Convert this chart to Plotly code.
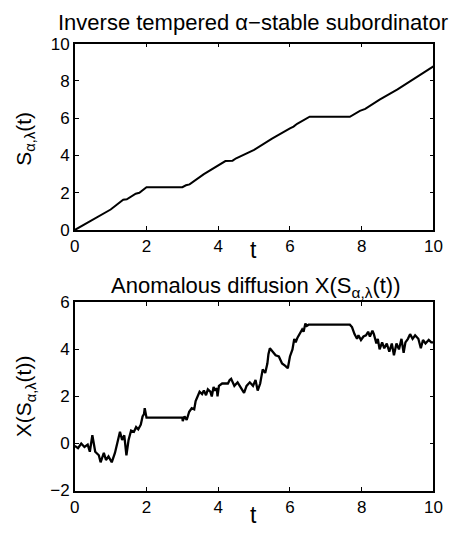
import plotly.graph_objects as go

# ---- data: inverse tempered alpha-stable subordinator ----
t_top = [0, 0.5, 1.0, 1.35, 1.45, 1.7, 1.8, 2.0, 3.0, 3.1, 3.2, 3.6, 4.0, 4.2, 4.4, 4.5,
         5.0, 5.5, 6.0, 6.1, 6.2, 6.55, 7.67, 7.85, 7.95, 8.1, 8.5, 9.0, 9.5, 10]
s_top = [0, 0.55, 1.1, 1.63, 1.65, 1.95, 2.0, 2.3, 2.3, 2.4, 2.45, 3.0, 3.45, 3.7, 3.72, 3.85,
         4.3, 4.9, 5.45, 5.55, 5.7, 6.08, 6.08, 6.3, 6.4, 6.5, 7.0, 7.55, 8.15, 8.78]

# ---- data: anomalous diffusion X(S(t)) ----
t_bot = [0, 0.09, 0.18, 0.27, 0.36, 0.42, 0.49, 0.57, 0.67, 0.72, 0.81, 0.87, 0.94, 1.03,
         1.12, 1.20, 1.26, 1.32, 1.38, 1.44, 1.50, 1.57, 1.65, 1.71, 1.77, 1.84, 1.89, 1.93,
         1.95, 2.0, 3.0, 3.01, 3.06, 3.12, 3.19, 3.26, 3.33, 3.37, 3.42, 3.48, 3.55, 3.60,
         3.66, 3.71, 3.78, 3.82, 3.87, 3.91, 3.96, 3.98, 4.02, 4.11, 4.27, 4.32, 4.36, 4.45,
         4.54, 4.63, 4.72, 4.79, 4.88, 4.97, 5.04, 5.10, 5.17, 5.24, 5.31, 5.37, 5.40, 5.44,
         5.51, 5.60, 5.69, 5.78, 5.87, 5.94, 6.00, 6.07, 6.12, 6.16, 6.21, 6.27, 6.34, 6.38,
         6.43, 6.47, 6.52, 7.67, 7.73, 7.80, 7.87, 7.91, 7.98, 8.05, 8.12, 8.18, 8.23, 8.30,
         8.34, 8.41, 8.45, 8.50, 8.57, 8.63, 8.70, 8.77, 8.84, 8.90, 8.97, 9.04, 9.11, 9.17,
         9.22, 9.29, 9.35, 9.42, 9.49, 9.58, 9.65, 9.71, 9.78, 9.87, 9.94, 10]
x_bot = [-0.1, -0.2, 0.0, -0.15, -0.05, -0.35, 0.35, -0.35, -0.5, -0.8, -0.4, -0.7, -0.55, -0.8,
         -0.4, 0.15, 0.5, 0.15, 0.35, -0.5, 0.15, 0.55, 0.5, 0.7, 0.6, 0.8, 1.15, 1.25,
         1.5, 1.1, 1.1, 0.95, 1.15, 1.0, 1.35, 1.5, 1.45, 1.8, 2.0, 2.2, 2.1, 2.25,
         2.05, 2.3, 2.2, 2.0, 2.4, 2.25, 2.35, 2.0, 2.45, 2.55, 2.55, 2.7, 2.75, 2.45,
         2.6, 2.35, 2.15, 2.45, 2.6, 2.45, 2.7, 2.25, 2.55, 3.15, 3.0, 3.4, 3.8, 4.05,
         3.9, 3.75, 3.7, 3.4, 3.3, 3.2, 3.7, 4.0, 4.45, 4.3, 4.5, 4.65, 4.85, 4.75,
         5.1, 5.0, 5.05, 5.05, 4.95, 4.65, 4.45, 4.6, 4.4, 4.55, 4.6, 4.75, 4.55, 4.8,
         4.65, 4.25, 4.45, 4.0, 4.3, 4.05, 4.25, 3.9, 4.25, 3.75, 4.25, 4.0, 4.45, 3.85,
         4.3, 4.45, 4.65, 4.45, 4.6, 4.45, 4.05, 4.4, 4.25, 4.4, 4.3, 4.3]

x_ticks = [0, 2, 4, 6, 8, 10]
y_ticks_top = [0, 2, 4, 6, 8, 10]
y_ticks_bot = [-2, 0, 2, 4, 6]

W, H = 455, 543
FONT = "Liberation Sans"

fig = go.Figure()
fig.add_trace(go.Scatter(x=t_top, y=s_top, mode="lines",
                         line=dict(color="black", width=2), xaxis="x", yaxis="y"))
fig.add_trace(go.Scatter(x=t_bot, y=x_bot, mode="lines",
                         line=dict(color="black", width=2.3), xaxis="x2", yaxis="y2"))

def px(x):
    return x / W

def py(y):
    return 1 - y / H

axis_common = dict(
    showline=True, linecolor="black", linewidth=1.5, mirror="allticks",
    ticks="inside", ticklen=4, tickcolor="black", tickwidth=1,
    showgrid=False, zeroline=False,
    tickfont=dict(family=FONT, size=17, color="black"),
)

fig.update_layout(
    width=W, height=H,
    margin=dict(l=0, r=0, t=0, b=0),
    paper_bgcolor="white", plot_bgcolor="white",
    showlegend=False,
    xaxis=dict(domain=[px(72), px(442)], range=[0, 10], tickvals=x_ticks,
               anchor="y", **axis_common),
    yaxis=dict(domain=[py(229), py(36)], range=[0, 10], tickvals=y_ticks_top,
               anchor="x", **axis_common),
    xaxis2=dict(domain=[px(72), px(442)], range=[0, 10], tickvals=x_ticks,
                anchor="y2", **axis_common),
    yaxis2=dict(domain=[py(499), py(304)], range=[-2, 6], tickvals=y_ticks_bot,
                anchor="x2", **axis_common),
)

ann_font = dict(family=FONT, size=21, color="black")
annotations = [
    dict(text="Inverse tempered α−stable subordinator", x=px(256), y=py(14),
         font=dict(family=FONT, size=22, color="black")),
    dict(text="Anomalous diffusion X(S<sub>α,λ</sub>(t))", x=px(258), y=py(288),
         font=dict(family=FONT, size=22, color="black")),
    dict(text="t", x=px(256), y=py(250), font=dict(family=FONT, size=23, color="black")),
    dict(text="t", x=px(256), y=py(524), font=dict(family=FONT, size=23, color="black")),
    dict(text="S<sub>α,λ</sub>(t)", x=px(21), y=py(134), textangle=-90, font=ann_font),
    dict(text="X(S<sub>α,λ</sub>(t))", x=px(21), y=py(401), textangle=-90, font=ann_font),
]
for a in annotations:
    a.update(xref="paper", yref="paper", showarrow=False,
             xanchor="center", yanchor="middle")
fig.update_layout(annotations=annotations)

fig.write_html("out.html")
